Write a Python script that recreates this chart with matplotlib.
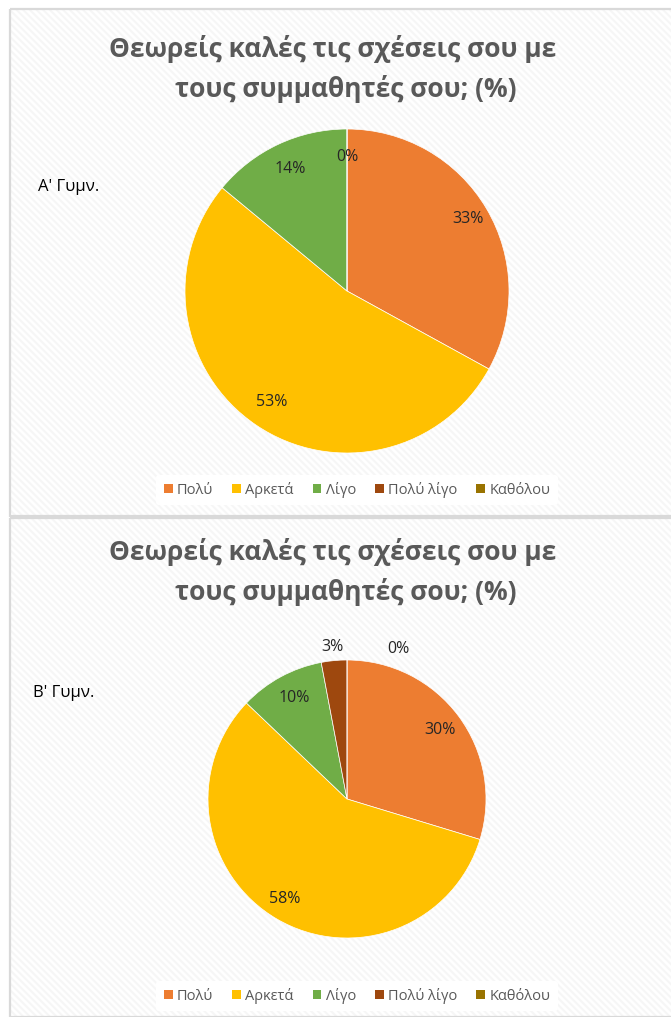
import matplotlib
matplotlib.use("Agg")
import matplotlib.pyplot as plt
from matplotlib.patches import Rectangle, Patch
import numpy as np

plt.rcParams['font.family'] = ['Open Sans', 'DejaVu Sans']
plt.rcParams['hatch.linewidth'] = 1.5

categories = ["Πολύ", "Αρκετά", "Λίγο", "Πολύ λίγο", "Καθόλου"]
colors = ["#ED7D31", "#FFC000", "#70AD47", "#9E480E", "#997300"]
values_a = [33, 53, 14, 0, 0]
values_b = [30, 58, 10, 3, 0]
labels_a = ["33%", "53%", "14%", "0%", ""]
labels_b = ["30%", "58%", "10%", "3%", "0%"]
title_lines = ["Θεωρείς καλές τις σχέσεις σου με", "τους συμμαθητές σου; (%)"]
side_a = "Α' Γυμν."
side_b = "Β' Γυμν."

W, H = 671, 1017
fig = plt.figure(figsize=(W / 100, H / 100), dpi=100)
fig.patch.set_facecolor("white")

def fx(x):
    return x / W

def fy(y):
    return 1 - y / H

# panel backgrounds
bg = fig.add_axes([0, 0, 1, 1], zorder=0)
bg.set_xlim(0, W)
bg.set_ylim(H, 0)
bg.axis("off")
for (y0, y1) in [(9, 516), (518, 1017)]:
    bg.add_patch(Rectangle((10, y0), W - 8, y1 - y0, facecolor="white",
                           edgecolor="#F6F6F6", hatch="\\\\\\\\\\", lw=0, zorder=1))
    bg.add_patch(Rectangle((10, y0), W - 8, y1 - y0, facecolor="none",
                           edgecolor="#D9D9D9", lw=1.6, zorder=2))

def panel(top, values, labels, side, cx, cy, r, side_xy, label_offsets, legend_y):
    # title
    bg.text(333, top + 49, title_lines[0], ha="center", va="center", fontsize=19,
            fontweight="bold", color="#595959", zorder=5)
    bg.text(346, top + 89, title_lines[1], ha="center", va="center", fontsize=19,
            fontweight="bold", color="#595959", zorder=5)
    bg.text(side_xy[0], side_xy[1], side, ha="left", va="center", fontsize=12,
            color="#000000", zorder=5)
    ax = fig.add_axes([fx(cx - r), fy(cy + r), 2 * r / W, 2 * r / H], zorder=3)
    wedges, texts = ax.pie(values, colors=colors, startangle=90, counterclock=False,
                           labels=labels, labeldistance=0.83,
                           wedgeprops=dict(linewidth=0.5, edgecolor="white"),
                           textprops=dict(fontsize=11.5, color="#262626",
                                          ha="center", va="center"))
    for t, off in zip(texts, label_offsets):
        t.set_ha("center")
        t.set_va("center")
        if off is not None:
            x, y = t.get_position()
            t.set_position((x + off[0], y + off[1]))
        t.set_clip_on(False)
    ax.set_xlim(-1, 1)
    ax.set_ylim(-1, 1)
    ax.set_aspect("equal")
    ax.axis("off")
    handles = [Patch(facecolor=c, edgecolor="none") for c in colors]
    leg = fig.legend(handles, categories, loc="center", bbox_to_anchor=(fx(357), fy(legend_y)),
                     ncol=5, frameon=True, fontsize=10.5, handlelength=0.6, handleheight=0.6,
                     handletextpad=0.3, columnspacing=1.3, borderpad=0.5)
    leg.get_frame().set_facecolor("white")
    leg.get_frame().set_edgecolor("none")
    leg.get_frame().set_alpha(1)
    leg.set_zorder(6)
    for t in leg.get_texts():
        t.set_color("#595959")

panel(0, values_a, labels_a, side_a, 347, 291, 162, (38, 187),
      [(0.03, 0.02), (0.0, 0.0), (0.0, 0.0), (0.0, 0.0), None], 490)
panel(503, values_b, labels_b, side_b, 347, 799, 139, (33, 693),
      [(0.0, 0.0), (-0.03, 0.0), (0.02, 0.0), (-0.03, 0.27), (0.37, 0.25)], 996)

fig.savefig("out.png", dpi=100, facecolor="white")
